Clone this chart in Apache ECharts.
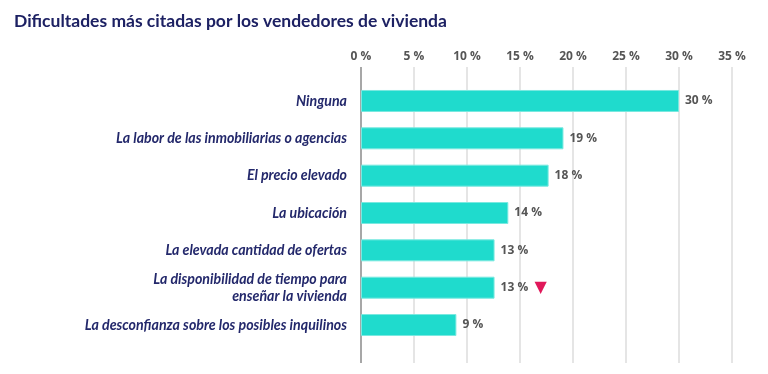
<!DOCTYPE html>
<html><head><meta charset="utf-8">
<script src="https://cdn.jsdelivr.net/npm/echarts@6/dist/echarts.min.js"></script>
<style>html,body{margin:0;padding:0;background:#fff}#c{width:768px;height:374px}</style>
</head><body><div id="c"></div>
<script>
const categories = [
  'Ninguna',
  'La labor de las inmobiliarias o agencias',
  'El precio elevado',
  'La ubicación',
  'La elevada cantidad de ofertas',
  'La disponibilidad de tiempo para\nenseñar la vivienda',
  'La desconfianza sobre los posibles inquilinos'
];
const values = [30.0, 19.1, 17.7, 13.9, 12.6, 12.6, 9.0];
const labels = ['30 %', '19 %', '18 %', '14 %', '13 %', '13 %', '9 %'];
const trend = ['', '', '', '', '', 'down', ''];
const tickMin = 0, tickMax = 35, tickStep = 5;

const chart = echarts.init(document.getElementById('c'), null, {renderer: 'canvas'});
const L = 361, R = 768 - 732;
const gridColors = [];
for (let v = tickMin; v <= tickMax; v += tickStep) gridColors.push(v === 0 ? '#8a8a8a' : '#dcdcdc');

chart.setOption({
  animation: false,
  title: {
    text: 'Dificultades más citadas por los vendedores de vivienda',
    left: 9, top: 7,
    textStyle: {fontFamily: 'Lato', fontWeight: 'bold', fontSize: 17.5, color: '#1d2163'}
  },
  grid: [
    {left: L, right: R, top: 67, bottom: 374 - 363},
    {left: L, right: R, top: 82.3, bottom: 374 - 343.7}
  ],
  xAxis: [
    {gridIndex: 0, type: 'value', position: 'top', min: tickMin, max: tickMax, interval: tickStep,
     axisLine: {show: false}, axisTick: {show: false},
     splitLine: {show: true, lineStyle: {color: gridColors, width: 1.5}},
     axisLabel: {formatter: '{value} %', margin: 4, fontFamily: 'Open Sans', fontWeight: 'bold', fontSize: 12, color: '#555'}},
    {gridIndex: 1, type: 'value', min: tickMin, max: tickMax, show: false}
  ],
  yAxis: [
    {gridIndex: 0, type: 'category', data: categories, inverse: true, show: false},
    {gridIndex: 1, type: 'category', data: categories, inverse: true,
     axisLine: {show: false}, axisTick: {show: false},
     axisLabel: {margin: 14, fontFamily: 'Lato', fontStyle: 'italic', fontWeight: 'bold', fontSize: 14.2, color: '#23286b', align: 'right', lineHeight: 17}}
  ],
  series: [{
    type: 'bar', xAxisIndex: 1, yAxisIndex: 1,
    data: values, barWidth: 22,
    itemStyle: {color: '#1fdbcd', borderColor: '#7ae9e0', borderWidth: 1},
    label: {
      show: true, position: 'right', distance: 6,
      formatter: p => labels[p.dataIndex] + (trend[p.dataIndex] === 'down' ? '  {t|▼}' : ''),
      fontFamily: 'Open Sans', fontWeight: 'bold', fontSize: 12, color: '#555',
      rich: {t: {color: '#e0185a', fontSize: 16, fontFamily: 'DejaVu Sans'}}
    }
  }]
});
</script></body></html>
